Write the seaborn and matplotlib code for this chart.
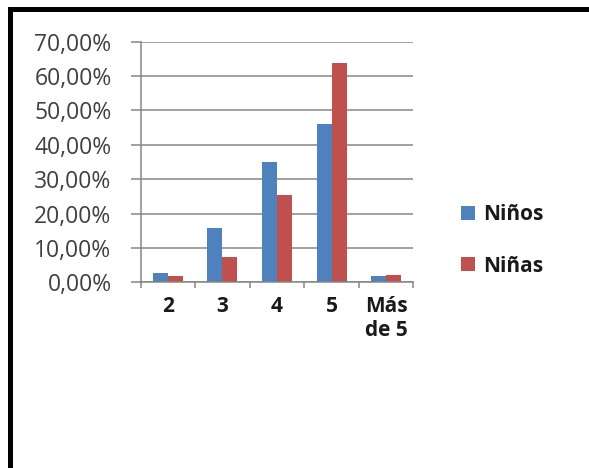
import numpy as np
import pandas as pd
import matplotlib
matplotlib.use("Agg")
import matplotlib.pyplot as plt
from matplotlib.patches import Rectangle
from matplotlib.ticker import FuncFormatter, FixedLocator
import seaborn as sns

# data
categorias = ["2", "3", "4", "5", "Más\nde 5"]
ninos = [0.026, 0.158, 0.350, 0.462, 0.018]
ninas = [0.018, 0.075, 0.254, 0.637, 0.022]
series = ["Niños", "Niñas"]
colores = ["#4F81BD", "#C0504D"]

df = pd.DataFrame({
    "categoria": categorias * 2,
    "valor": ninos + ninas,
    "serie": [series[0]] * len(categorias) + [series[1]] * len(categorias),
})

sns.set_theme(style="white")
plt.rcParams["font.family"] = ["Open Sans", "DejaVu Sans"]

W, H = 589, 468
fig = plt.figure(figsize=(W / 100, H / 100), dpi=100)
ax = fig.add_axes([140.7 / W, 1 - 282.3 / H, (413.3 - 140.7) / W, (282.3 - 41.7) / H])

sns.barplot(data=df, x="categoria", y="valor", hue="serie", hue_order=series,
            palette=colores, width=0.55, gap=0, linewidth=0, saturation=1, ax=ax)

ax.set_xlim(-0.5, len(categorias) - 0.5)
ax.set_ylim(0, 0.70)
ax.set_yticks(np.arange(0, 0.71, 0.10))
ax.yaxis.set_major_formatter(FuncFormatter(lambda v, _: f"{v * 100:.2f}%".replace(".", ",")))
ax.set_xlabel("")
ax.set_ylabel("")

grid = "#868686"
ax.yaxis.grid(True, color=grid, lw=1.1)
ax.set_axisbelow(True)
for s in ["top", "right"]:
    ax.spines[s].set_visible(False)
for s in ["left", "bottom"]:
    ax.spines[s].set_color(grid)
    ax.spines[s].set_linewidth(1.1)

ax.tick_params(axis="y", which="major", left=True, length=7, width=1.1, color=grid,
               pad=14, labelsize=16.5, labelcolor="#404040")
ax.tick_params(axis="x", which="major", bottom=True, length=0, pad=10, labelsize=15)
ax.xaxis.set_minor_locator(FixedLocator(np.arange(-0.5, len(categorias), 1.0)))
ax.tick_params(axis="x", which="minor", bottom=True, length=4.5, width=1.1, color=grid)
for t in ax.get_xticklabels():
    t.set_fontweight("bold")
    t.set_color("#1a1a1a")

handles, labels = ax.get_legend_handles_labels()
if ax.get_legend() is not None:
    ax.get_legend().remove()
leg = fig.legend(handles, labels, loc="center left", bbox_to_anchor=(461 / W, 1 - 240.5 / H),
                 frameon=False, prop={"size": 15, "weight": "bold"}, handlelength=0.67,
                 handleheight=0.67, handletextpad=0.4, labelspacing=1.45,
                 borderpad=0, borderaxespad=0)
for t in leg.get_texts():
    t.set_color("#1a1a1a")

# black frame of the screenshot (only left and top edges visible)
fig.add_artist(Rectangle((9.5 / W, -0.1), 1.2, 1.1 - 9.5 / H, transform=fig.transFigure,
                         fill=False, edgecolor="black", lw=3.6))

fig.savefig("out.png", dpi=100)
